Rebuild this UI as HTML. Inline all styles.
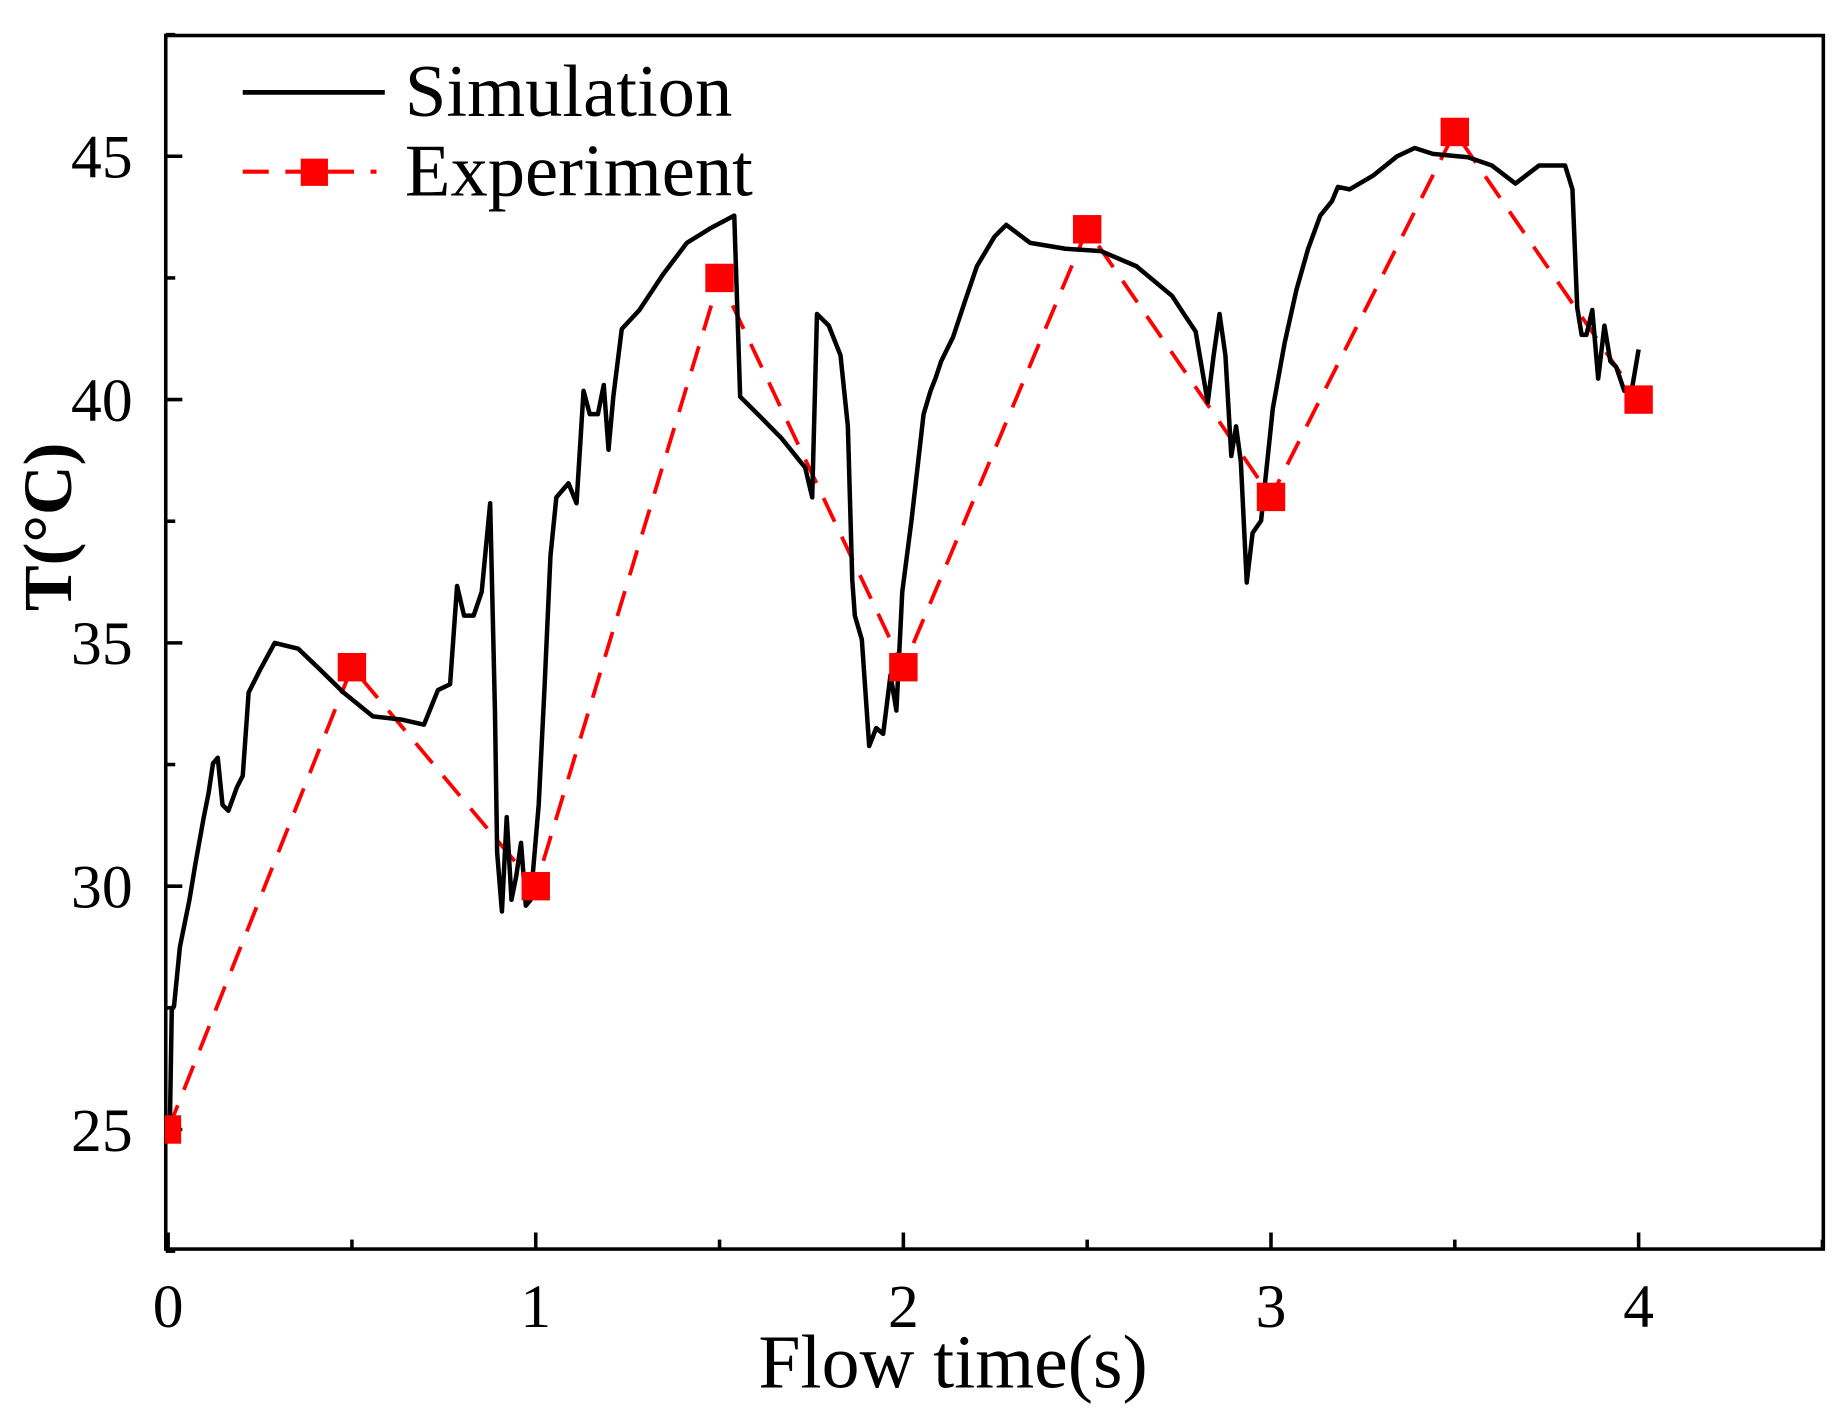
<!DOCTYPE html>
<html><head><meta charset="utf-8"><style>
html,body{margin:0;padding:0;background:#fff;}
svg{display:block;}
text{font-family:"Liberation Serif",serif;fill:#000;}
</style></head><body>
<svg id="chart" width="1847" height="1416" viewBox="0 0 1560 1196" preserveAspectRatio="none" xmlns="http://www.w3.org/2000/svg">
<g id="axes"></g>
<g id="series"></g>
<g id="legend">
  <line x1="205" y1="78" x2="325" y2="78" stroke="#000" stroke-width="4"/>
  <text x="342" y="98" font-size="63">Simulation</text>
  <line x1="205" y1="145" x2="318" y2="145" stroke="#f00" stroke-width="3.5" stroke-dasharray="22,14"/>
  <rect x="254" y="134" width="23" height="23" fill="#f00"/>
  <text x="342" y="165" font-size="63">Experiment</text>
</g>
<text x="805" y="1172" font-size="64" text-anchor="middle">Flow time(s)</text>
<text transform="translate(60,445) rotate(-90)" font-size="58" font-weight="bold" text-anchor="middle">T(°C)</text>
</svg>
<script>
const simT = [0,0.005,0.01,0.016,0.032,0.058,0.074,0.097,0.11,0.122,0.135,0.148,0.164,0.187,0.203,0.219,0.251,0.29,0.316,0.354,0.412,0.477,0.557,0.638,0.696,0.734,0.767,0.786,0.805,0.831,0.853,0.876,0.889,0.895,0.908,0.921,0.934,0.947,0.96,0.973,0.986,1.008,1.024,1.04,1.056,1.089,1.111,1.13,1.147,1.169,1.185,1.198,1.211,1.234,1.282,1.346,1.411,1.475,1.54,1.556,1.604,1.668,1.733,1.752,1.765,1.797,1.829,1.849,1.861,1.868,1.887,1.907,1.926,1.945,1.965,1.981,1.997,2.022,2.055,2.074,2.087,2.103,2.135,2.167,2.2,2.248,2.28,2.345,2.441,2.538,2.634,2.731,2.763,2.795,2.828,2.844,2.86,2.876,2.892,2.905,2.918,2.934,2.95,2.973,3.005,3.037,3.069,3.101,3.134,3.166,3.182,3.214,3.279,3.343,3.391,3.44,3.536,3.601,3.665,3.729,3.8,3.82,3.833,3.845,3.858,3.874,3.89,3.907,3.923,3.939,3.961,3.981,4.0];
const simTemp = [25.0,25.2,27.5,27.53,28.75,29.72,30.45,31.42,31.91,32.52,32.64,31.67,31.55,32.03,32.27,33.98,34.46,35.0,34.95,34.88,34.46,33.98,33.49,33.42,33.32,34.03,34.15,36.17,35.56,35.56,36.05,37.87,33.61,30.69,29.48,31.42,29.72,30.21,30.89,29.6,29.72,31.67,34.1,36.78,37.99,38.28,37.87,40.18,39.7,39.7,40.3,38.97,40.06,41.45,41.84,42.57,43.22,43.52,43.78,40.06,39.7,39.21,38.6,37.99,41.76,41.52,40.91,39.45,36.29,35.56,35.07,32.88,33.25,33.13,34.34,33.61,36.05,37.51,39.7,40.18,40.43,40.79,41.28,42.01,42.74,43.35,43.59,43.22,43.1,43.05,42.74,42.13,41.76,41.4,39.94,40.91,41.76,40.91,38.84,39.45,38.72,36.24,37.26,37.51,39.82,41.16,42.25,43.1,43.78,44.08,44.37,44.32,44.61,45.0,45.17,45.05,44.98,44.81,44.44,44.81,44.81,44.32,41.89,41.33,41.33,41.84,40.43,41.52,40.79,40.67,40.18,40.18,41.03];
const expT = [0,0.5,1,1.5,2,2.5,3,3.5,4];
const expTemp = [25,34.5,30,42.5,34.5,43.5,38,45.5,40];
const xTicks = [0,1,2,3,4];
const xMinor = [0.5,1.5,2.5,3.5,4.5];
const yTicks = [25,30,35,40,45];
const yMinor = [22.5,27.5,32.5,37.5,42.5,47.5];

const L=140,R=1540,T=30,B=1055;
const xs = v => 142 + v*310.5;
const ys = v => 954 - (v-25)*41.1;
const NS="http://www.w3.org/2000/svg";
function mk(tag, attrs, parent){const e=document.createElementNS(NS,tag);for(const k in attrs)e.setAttribute(k,attrs[k]);parent.appendChild(e);return e;}
const axes=document.getElementById('axes'), series=document.getElementById('series');

const frame=mk('rect',{x:L,y:T,width:R-L,height:B-T,fill:'none',stroke:'#000','stroke-width':3},axes);


xTicks.forEach(v=>{
  const t=mk('line',{x1:xs(v),x2:xs(v),y1:B,y2:B-14,stroke:'#000','stroke-width':3},axes);
  
  
  const l=mk('text',{x:xs(v),y:B+66,'font-size':52,'text-anchor':'middle'},axes);
  l.textContent=v;
  
  
});
xMinor.forEach(v=>{
  const t=mk('line',{x1:xs(v),x2:xs(v),y1:B,y2:B-8,stroke:'#000','stroke-width':3},axes);
  
  
});
yTicks.forEach(v=>{
  const t=mk('line',{x1:L,x2:L+14,y1:ys(v),y2:ys(v),stroke:'#000','stroke-width':3},axes);
  
  
  const l=mk('text',{x:L-28,y:ys(v)+18,'font-size':52,'text-anchor':'end'},axes);
  l.textContent=v;
  
  
});
yMinor.forEach(v=>{
  const t=mk('line',{x1:L,x2:L+8,y1:ys(v),y2:ys(v),stroke:'#000','stroke-width':3},axes);
  
  
});
const ed=expT.map((t,i)=>xs(t)+','+ys(expTemp[i])).join(' ');
const el=mk('polyline',{points:ed,fill:'none',stroke:'#f00','stroke-width':3.2,'stroke-dasharray':'22,14'},series);


const sd=simT.map((t,i)=>xs(t)+','+ys(simTemp[i])).join(' ');
const sl=mk('polyline',{points:sd,fill:'none',stroke:'#000','stroke-width':3.8,'stroke-linejoin':'round'},series);


expT.forEach((t,i)=>{
  let x=xs(t)-12; if(t===0) x=xs(t)-3;
  const w = t===0?14:24;
  const m=mk('rect',{x:x,y:ys(expTemp[i])-12,width:w,height:24,fill:'#f00'},series);
  
  
});
</script>
</body></html>
